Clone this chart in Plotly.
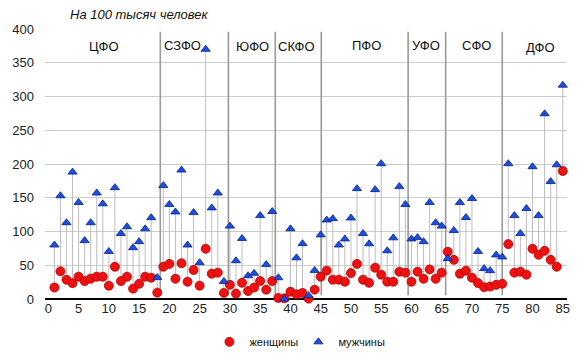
import plotly.graph_objects as go

regions = list(range(1, 86))
women = [17, 41, 28.5, 23.5, 33, 26.5, 30, 33, 33, 19.7,
         47.8, 26.5, 33, 15.3, 22.5, 33, 31.5, 9.4, 47.8, 52,
         30, 53, 25.5, 43, 19.7, 74.4, 37.4, 39, 9, 21,
         8, 24, 11.8, 17, 26.6, 13.8, 26.6, 1.5, 1, 10.8,
         7, 9, 0.5, 13.8, 33, 42, 28.6, 28.6, 25.6, 38.4,
         52, 28.6, 24, 46.3, 36, 25.6, 25.6, 40.4, 39, 25.6,
         40.4, 30, 43.8, 30, 39, 70, 58, 37.4, 41.9, 31.5,
         23.6, 17.5, 18.5, 21, 22.5, 81.3, 39, 40.4, 36, 74.4,
         65.5, 71.4, 58, 47.8, 189.6]
men = [80, 153, 113, 188, 143, 86.5, 113, 157, 141, 70.4,
       165, 97, 107, 76, 85, 104, 120.5, 32, 168, 140,
       129, 191, 80, 128, 53.7, 370, 135, 157, 26, 108,
       56.7, 89.7, 34.5, 38, 123.6, 51, 129.6, 31.5, 0, 104,
       61, 82, 5, 42.4, 95, 117, 119, 80, 89, 120,
       163.5, 97, 81.8, 162, 200.5, 71.4, 90.6, 166.5, 140, 89,
       91, 85, 143, 113, 108, 60, 101.5, 143, 120.7, 148.8,
       70.4, 45, 42, 65.3, 62.3, 200.5, 123.6, 97, 134, 196,
       123.6, 274.4, 174, 198.8, 316.7]

district_names = ["ЦФО", "СЗФО", "ЮФО", "СКФО", "ПФО", "УФО", "СФО", "ДФО"]
district_label_x = [9.2, 22.2, 33.8, 41.0, 52.6, 62.4, 70.7, 81.4]
district_label_y = [374, 376, 374, 374, 375, 375, 376, 373]
district_bounds = [18.5, 29.75, 37.5, 45.1, 59.45, 65.65, 75.0]
bound_low, bound_high = 5.5, 396

fig = go.Figure()

# connectors between women and men values
cx, cy = [], []
for x, w, m in zip(regions, women, men):
    cx += [x, x, None]
    cy += [w, m, None]
fig.add_trace(go.Scatter(x=cx, y=cy, mode="lines",
                         line=dict(color="#bdbdbd", width=1),
                         showlegend=False, hoverinfo="skip"))

# district separators
sx, sy = [], []
for b in district_bounds:
    sx += [b, b, None]
    sy += [bound_low, bound_high, None]
fig.add_trace(go.Scatter(x=sx, y=sy, mode="lines",
                         line=dict(color="#9a9a9a", width=1.6),
                         showlegend=False, hoverinfo="skip"))

fig.add_trace(go.Scatter(x=regions, y=women, mode="markers", name="женщины",
                         marker=dict(symbol="circle", size=9, color="#ee1111",
                                     line=dict(color="#b80000", width=0.8)),
                         cliponaxis=False))
fig.add_trace(go.Scatter(x=regions, y=men, mode="markers", name="мужчины",
                         marker=dict(symbol="triangle-up", size=8, color="#1a4fe6",
                                     line=dict(color="#0a1e80", width=0.8)),
                         cliponaxis=False))

for name, lx, ly in zip(district_names, district_label_x, district_label_y):
    fig.add_annotation(x=lx, y=ly, text=name, showarrow=False,
                       font=dict(family="Liberation Sans, Arial", size=13, color="#111"))

fig.add_annotation(xref="paper", yref="paper", x=0.0435, y=1.053,
                   xanchor="left", yanchor="middle", showarrow=False,
                   text="<i>На 100 тысяч человек</i>",
                   font=dict(family="Liberation Sans, Arial", size=13, color="#111"))

fig.update_layout(
    width=578, height=355,
    margin=dict(l=45, r=11, t=29, b=56, autoexpand=False),
    paper_bgcolor="white", plot_bgcolor="white",
    font=dict(family="Liberation Sans, Arial", size=13, color="#222"),
    showlegend=True,
    legend=dict(orientation="h", x=0.315, xanchor="left", yref="container",
                y=0.037, yanchor="middle", entrywidth=44, entrywidthmode="pixels",
                font=dict(size=11, color="#111"), itemwidth=30, tracegroupgap=0),
)
fig.update_xaxes(range=[-0.55, 85.7], tickmode="array", tickvals=list(range(0, 86, 5)),
                 showgrid=False, zeroline=False, showline=False, ticks="",
                 tickfont=dict(size=13, color="#222"))
fig.update_yaxes(range=[0, 400], tickmode="array", tickvals=list(range(0, 401, 50)),
                 showgrid=True, gridcolor="#cccccc", gridwidth=1,
                 zeroline=True, zerolinecolor="#000", zerolinewidth=1.5,
                 showline=False, ticks="", ticklabelstandoff=10,
                 tickfont=dict(size=13, color="#222"))

fig.write_html("out.html")
